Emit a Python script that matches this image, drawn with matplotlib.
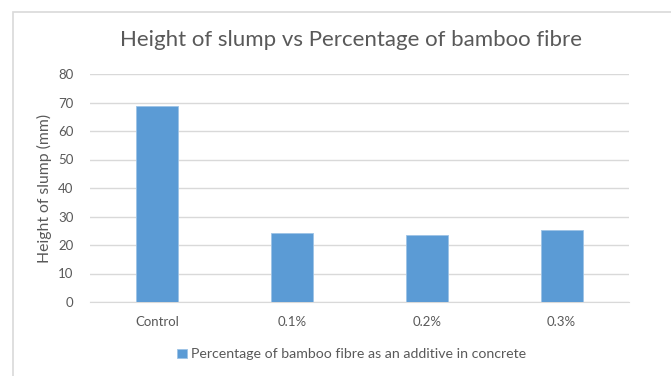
import matplotlib.pyplot as plt
from matplotlib.patches import Rectangle

categories = ['Control', '0.1%', '0.2%', '0.3%']
slump = [68.6, 24.3, 23.4, 25.2]
series_name = 'Percentage of bamboo fibre as an additive in concrete'

plt.rcParams['font.family'] = ['Lato', 'DejaVu Sans']
txt = '#595959'

fig = plt.figure(figsize=(6.71, 3.76), dpi=100)
# chart area border (runs off right and bottom edge)
fig.patches.append(Rectangle((12.5 / 671, -0.1), 1.2, 1 - 11.5 / 376 + 0.1,
                             transform=fig.transFigure, fill=False,
                             edgecolor='#d9d9d9', linewidth=1.2))

ax = fig.add_axes([90 / 671, 1 - 302 / 376, 539 / 671, 228 / 376])
x = range(len(categories))
ax.bar(x, slump, width=0.31, color='#5b9bd5', edgecolor='#9dc3e6',
       linewidth=0.6, label=series_name, zorder=3)

ax.set_ylim(0, 80)
ax.set_xlim(-0.5, 3.5)
ax.set_yticks(range(0, 81, 10))
ax.set_xticks(list(x))
ax.set_xticklabels(categories)
ax.grid(axis='y', color='#d9d9d9', linewidth=1, zorder=0)
for s in ['top', 'right', 'left']:
    ax.spines[s].set_visible(False)
ax.spines['bottom'].set_color('#d9d9d9')
ax.tick_params(axis='both', length=0, colors=txt, labelsize=9.5)
ax.tick_params(axis='y', pad=12)
ax.tick_params(axis='x', pad=10)

ax.set_ylabel('Height of slump (mm)', color=txt, fontsize=11.3, labelpad=4)
fig.text(351 / 671, 1 - 40 / 376, 'Height of slump vs Percentage of bamboo fibre',
         ha='center', va='center', fontsize=16, color=txt)

ax.legend(loc='center', bbox_to_anchor=(0.486, -0.23), frameon=False,
          fontsize=10.2, labelcolor=txt, handlelength=0.7, handleheight=0.7,
          handletextpad=0.3)

fig.savefig('out.png', dpi=100)
